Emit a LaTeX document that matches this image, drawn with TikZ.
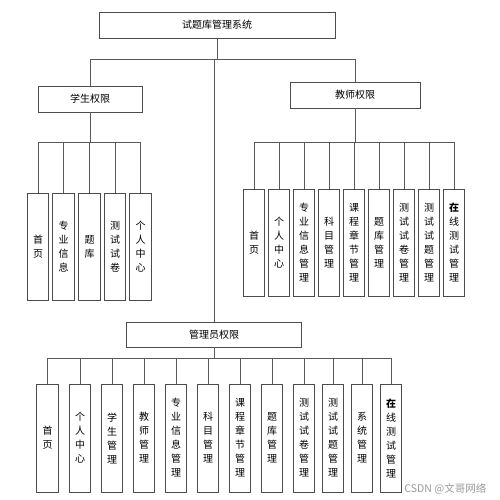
\documentclass[tikz,border=0pt]{standalone}
\usepackage{fontspec}
\setmainfont{Noto Sans CJK SC}
\begin{document}
\begin{tikzpicture}[x=1pt,y=-1pt,
  line width=0.8pt,
  conn/.style={draw=black!65},
  topbox/.style={draw=black!70,fill=white,inner sep=0pt,font=\fontsize{10pt}{12pt}\selectfont},
  leaf/.style={draw=black!70,fill=white,inner sep=0pt,minimum width=21.5pt,minimum height=107pt,align=center,font=\fontsize{10pt}{14pt}\selectfont},
  wm/.style={text=black!40,font=\fontsize{10.5pt}{12pt}\selectfont,anchor=east}]
\useasboundingbox (0,0) rectangle (499,500);
% top levels
\node[topbox,minimum width=236pt,minimum height=26pt] (sys) at (217,25) {试题库管理系统};
\node[topbox,minimum width=104pt,minimum height=26pt] (stu) at (90,99) {学生权限};
\node[topbox,minimum width=130pt,minimum height=26pt] (tea) at (355,95) {教师权限};
\node[topbox,minimum width=175pt,minimum height=25pt] (adm) at (214,334.5) {管理员权限};
\draw[conn] (sys.south) -- ++(0,21) coordinate (b0);
\draw[conn] (b0) -| (stu.north);
\draw[conn] (b0) -| (tea.north);
\draw[conn] (adm.north |- b0) -- (adm.north);
% student leaves
\foreach \name/\x/\t in {s1/38/首\\页, s2/63.5/专\\业\\信\\息, s3/89.5/题\\库, s4/115/测\\试\\试\\卷, s5/140.5/个\\人\\中\\心}{
  \node[leaf] (\name) at (\x,246.5) {\t};
}
\draw[conn] (stu.south) -- ++(0,30) coordinate (b1);
\foreach \name in {s1,s2,s3,s4,s5}{\draw[conn] (b1) -| (\name.north);}
% teacher leaves
\foreach \name/\x/\t in {t1/254/首\\页, t2/279/个\\人\\中\\心, t3/304/专\\业\\信\\息\\管\\理, t4/329/科\\目\\管\\理, t5/354/课\\程\\章\\节\\管\\理, t6/379/题\\库\\管\\理, t7/404/测\\试\\试\\卷\\管\\理, t8/429/测\\试\\试\\题\\管\\理, t9/454/{\bfseries 在}\\线\\测\\试\\管\\理}{
  \node[leaf] (\name) at (\x,242.5) {\t};
}
\draw[conn] (tea.south) -- ++(0,34) coordinate (b2);
\foreach \name in {t1,t2,t3,t4,t5,t6,t7,t8,t9}{\draw[conn] (b2) -| (\name.north);}
% admin leaves
\foreach \name/\x/\t in {a1/47.5/首\\页, a2/80/个\\人\\中\\心, a3/112/学\\生\\管\\理, a4/144/教\\师\\管\\理, a5/176/专\\业\\信\\息\\管\\理, a6/208/科\\目\\管\\理, a7/240/课\\程\\章\\节\\管\\理, a8/272/题\\库\\管\\理, a9/304/测\\试\\试\\卷\\管\\理, a10/333/测\\试\\试\\题\\管\\理, a11/362/系\\统\\管\\理, a12/391/{\bfseries 在}\\线\\测\\试\\管\\理}{
  \node[leaf,minimum height=108pt] (\name) at (\x,438) {\t};
}
\draw[conn] (adm.south) -- ++(0,11) coordinate (b3);
\foreach \name in {a1,a2,a3,a4,a5,a6,a7,a8,a9,a10,a11,a12}{\draw[conn] (b3) -| (\name.north);}
% watermark
\node[wm] (mark) at (490,489) {CSDN @文哥网络};
\end{tikzpicture}
\end{document}
